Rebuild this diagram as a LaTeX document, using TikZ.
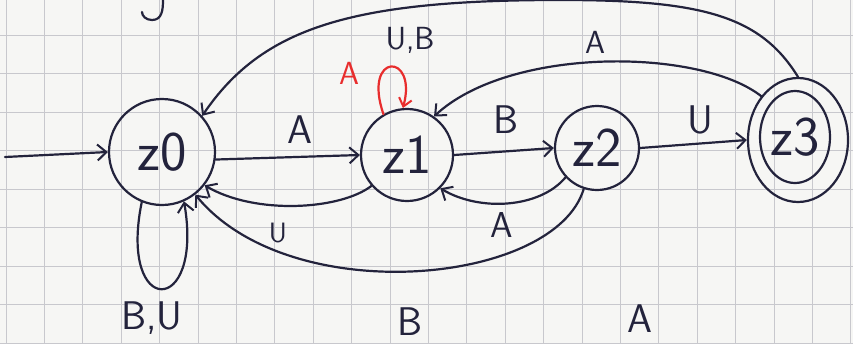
\documentclass[tikz,border=0pt]{standalone}
\usetikzlibrary{arrows.meta,shapes.geometric}
\definecolor{ink}{RGB}{35,35,60}
\definecolor{redink}{RGB}{232,45,45}
\definecolor{gridc}{RGB}{200,200,205}
\definecolor{paper}{RGB}{246,246,244}
\begin{document}
\begin{tikzpicture}[x=1pt,y=-1pt,
  edge/.style={draw=ink,line width=2.2pt,line cap=round,line join=round,-{Straight Barb[length=9pt,width=16pt,line width=2pt]}},
  redge/.style={draw=redink,line width=2.2pt,line cap=round,line join=round,-{Straight Barb[length=8pt,width=13pt,line width=2pt]}},
  statenode/.style={circle,draw=ink,line width=2.2pt,inner sep=0pt,text=ink,font=\sffamily\fontsize{56}{58}\selectfont},
  lbl/.style={text=ink,inner sep=0pt,font=\sffamily\fontsize{40}{42}\selectfont},
  smlbl/.style={text=ink,inner sep=0pt,font=\sffamily\fontsize{32}{34}\selectfont}]
\useasboundingbox (0,0) rectangle (853,343);
\fill[paper] (0,0) rectangle (853,343);
\clip (0,0) rectangle (853,343);
% graph paper
\foreach \k in {0,...,22} \draw[gridc,line width=1pt] ({6+38.4*\k},0) -- ({6+38.4*\k},343);
\foreach \k in {-1,...,8} \draw[gridc,line width=1pt] (0,{35+38.5*\k}) -- (853,{35+38.5*\k});
% states
\node[statenode,minimum size=106pt] (z0) at (162,152) {z0};
\node[statenode,minimum size=92pt] (z1) at (407,155) {z1};
\node[statenode,minimum size=84pt] (z2) at (597,148) {z2};
\node[ellipse,draw=ink,line width=2.2pt,minimum width=100pt,minimum height=124pt,inner sep=0pt] (z3) at (798,140) {};
\node[ellipse,draw=ink,line width=2.2pt,minimum width=70pt,minimum height=92pt,inner sep=0pt,text=ink,font=\sffamily\fontsize{56}{58}\selectfont] (z3in) at (795,137) {z3};
\coordinate (start) at (5,157);
\coordinate (jtop) at (163,0);
% edges
\draw[edge] (start) -- (z0.west);
\draw[edge] (z0.-8) -- (z1.west);
\draw[edge] (z1.221) .. controls (340,210) and (255,215) .. (z0.-38);
\draw[edge] (z2.252) .. controls (555,285) and (290,310) .. (z0.-52);
\draw[edge] (z0.248) .. controls (118,318) and (204,318) .. (z0.294);
\draw[redge] (z1.120) .. controls (362,52) and (418,52) .. (z1.95);
\draw[edge] (z1.east) -- (z2.west);
\draw[edge] (z2.223) .. controls (540,208) and (480,212) .. (z1.-45);
\draw[edge] (z2.east) -- (z3.west);
\draw[edge] (z3.130) .. controls (700,48) and (510,46) .. (z1.55);
\draw[edge] (z3.north) .. controls (760,15) and (700,0) .. (560,0) .. controls (350,0) and (262,28) .. (z0.42);
% cut-off letter at top
\draw[ink,line width=2.2pt,line cap=round] (jtop) .. controls (163,10) and (162,20) .. (152,20) .. controls (146,20) and (142,16) .. (142,12);
% labels
\node[lbl] (la1) at (300,130) {A};
\node[lbl,font=\sffamily\fontsize{28}{30}\selectfont] (lu1) at (278,233) {U};
\node[lbl] (lb1) at (410,322) {B};
\node[lbl] (lbu) at (152,318) {B,U};
\node[smlbl] (lub) at (410,40) {U,B};
\node[smlbl,text=redink] (lra) at (349,73) {A};
\node[lbl] (lb2) at (506,120) {B};
\node[lbl,font=\sffamily\fontsize{36}{38}\selectfont] (la2) at (502,225) {A};
\node[lbl] (lu2) at (700,120) {U};
\node[smlbl] (la3) at (595,42) {A};
\node[lbl] (la4) at (640,319) {A};
\end{tikzpicture}
\end{document}
